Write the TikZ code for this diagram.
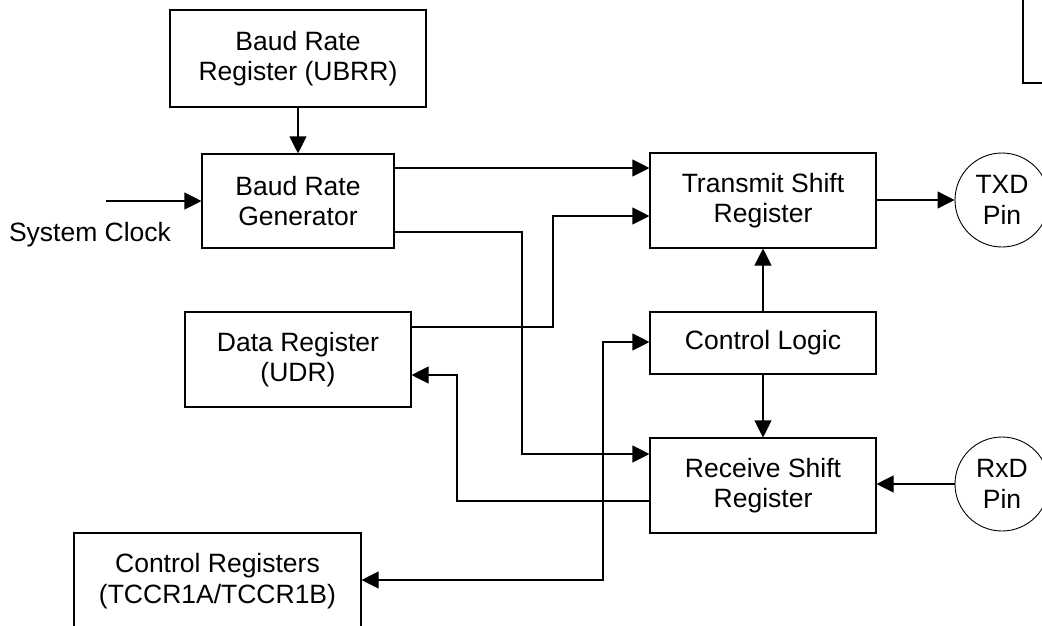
\documentclass[tikz,border=0pt]{standalone}
\usepackage{fontspec}
\setmainfont{Liberation Sans}
\usetikzlibrary{arrows.meta}
\begin{document}
\begin{tikzpicture}[x=1pt,y=-1pt,
  line width=1.1pt,
  box/.style={draw, line width=1.1pt, rectangle, align=center, inner sep=0pt,
    font=\fontsize{26.5}{30.5}\selectfont},
  pin/.style={draw, line width=0.9pt, circle, minimum size=94pt, inner sep=0pt, align=center,
    font=\fontsize{26.5}{30.5}\selectfont},
  arr/.style={-{Triangle[length=17pt,width=17pt]}},
  arrs/.style={{Triangle[length=17pt,width=17pt]}-{Triangle[length=17pt,width=17pt]}}]
\useasboundingbox (0,0) rectangle (1042,625);
\clip (0,0) rectangle (1042,625);

\node[box, minimum width=256pt, minimum height=97pt] (ubrr) at (298,58.5) {Baud Rate\\Register (UBRR)};
\node[box, minimum width=192pt, minimum height=94pt] (brg) at (298,201) {Baud Rate\\Generator};
\node[box, minimum width=226pt, minimum height=95pt] (tsr) at (763,200.5) {Transmit Shift\\Register};
\node[box, minimum width=226pt, minimum height=95pt] (dr) at (298,359.5) {Data Register\\(UDR)};
\node[box, minimum width=226pt, minimum height=62pt] (cl) at (763,343) {Control Logic};
\node[box, minimum width=226pt, minimum height=95pt] (rsr) at (763,485.5) {Receive Shift\\Register};
\node[box, minimum width=287pt, minimum height=96pt] (cr) at (217.5,581) {Control Registers\\(TCCR1A/TCCR1B)};
\node[box, minimum width=60pt, minimum height=110pt] (tr) at (1053,28) {};
\node[pin] (txd) at (1002,200) {TXD\\Pin};
\node[pin] (rxd) at (1002,484) {RxD\\Pin};
\node[font=\fontsize{26.5}{30.5}\selectfont, anchor=base, inner sep=0pt] (sclk) at (90,241) {System Clock};
\coordinate (scin) at (106,201);

\draw[arr] (ubrr) -- (brg);
\draw[arr] (scin) -- (brg.west);
\draw[arr] (brg.east |- 0,168) -- (tsr.west |- 0,168);
\draw[arr] (brg.east |- 0,232) -- (522,232) -- (522,454) -- (rsr.west |- 0,454);
\draw[arr] (dr.east |- 0,327) -- (553,327) -- (553,216) -- (tsr.west |- 0,216);
\draw[arr] (rsr.west |- 0,501) -- (457,501) -- (457,375) -- (dr.east |- 0,375);
\draw[arrs] (cr.east |- 0,580) -- (603,580) -- (603,342) -- (cl.west |- 0,342);
\draw[arr] (cl) -- (tsr);
\draw[arr] (cl) -- (rsr);
\draw[arr] (tsr.east |- txd.west) -- (txd.west);
\draw[arr] (rxd.west) -- (rsr.east |- rxd.west);
\end{tikzpicture}
\end{document}
